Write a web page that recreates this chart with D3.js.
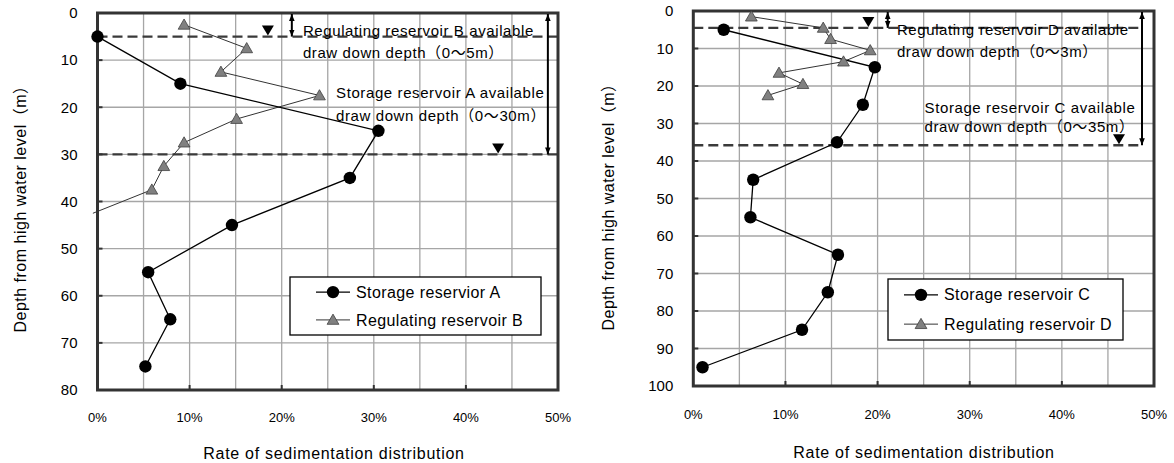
<!DOCTYPE html>
<html><head><meta charset="utf-8">
<script src="https://cdn.jsdelivr.net/npm/d3@7"></script>
<style>
body{margin:0;background:#fff;}
svg{display:block;font-family:"Liberation Sans",Arial,"Noto Sans CJK JP",sans-serif;}
</style></head>
<body>
<svg id="c" width="1174" height="463"></svg>
<script>
// ---- data ----
const depthA = [5, 15, 25, 35, 45, 55, 65, 75];
const rateA  = [0, 9.0, 30.5, 27.4, 14.6, 5.5, 7.9, 5.2];
const depthB = [2.5, 7.5, 12.5, 17.5, 22.5, 27.5, 32.5, 37.5, 42.5];
const rateB  = [9.4, 16.2, 13.4, 24.1, 15.1, 9.4, 7.2, 5.9, -0.5];

const depthC = [5, 15, 25, 35, 45, 55, 65, 75, 85, 95];
const rateC  = [3.3, 19.7, 18.4, 15.6, 6.5, 6.2, 15.7, 14.6, 11.8, 1.0];
const depthD = [1.5, 4.5, 7.5, 10.5, 13.5, 16.5, 19.5, 22.5];
const rateD  = [6.3, 14.1, 14.9, 19.2, 16.3, 9.3, 11.9, 8.1];

const xTicks = [0, 10, 20, 30, 40, 50];
const yTicksLeft = [0, 10, 20, 30, 40, 50, 60, 70, 80];
const yTicksRight = [0, 10, 20, 30, 40, 50, 60, 70, 80, 90, 100];

const xTitle = "Rate of sedimentation distribution";
const yTitle = "Depth from high water level（m）";

const charts = [
  {
    box: {x0: 97.5, x1: 558, y0: 13, y1: 390}, ymax: 80, yTicks: yTicksLeft,
    s1: {name: "Storage reservior A", rate: rateA, depth: depthA},
    s2: {name: "Regulating reservoir B", rate: rateB, depth: depthB},
    dashed: [{d: 5, to: 50}, {d: 30, to: 50}],
    downMarks: [{r: 18.5, d: 5}, {r: 43.5, d: 30}],
    arrows: [{r: 21.1, from: 0, to: 5}, {r: 48.9, from: 0, to: 30}],
    notes: [
      {r: 22.3, d: 3.8, t: "Regulating reservoir B available"},
      {r: 22.3, d: 8.5, t: "draw down depth（0～5m）"},
      {r: 25.9, d: 17.0, t: "Storage reservoir A available"},
      {r: 25.9, d: 21.7, t: "draw down depth（0～30m）"}
    ],
    legend: {x: 290, y: 277, w: 251, h: 58, pad: 26},
    xTitleX: 334, xTitleY: 453, yTitleX: 20, yTitleY: 205, tickLabY: 417
  },
  {
    box: {x0: 693.3, x1: 1154, y0: 11, y1: 386}, ymax: 100, yTicks: yTicksRight,
    s1: {name: "Storage reservoir C", rate: rateC, depth: depthC},
    s2: {name: "Regulating reservoir D", rate: rateD, depth: depthD},
    dashed: [{d: 4.5, to: 48.7}, {d: 35.8, to: 48.7}],
    downMarks: [{r: 19.0, d: 4.5}, {r: 46.2, d: 35.8}],
    arrows: [{r: 21.1, from: 0, to: 4.5}, {r: 48.7, from: 0, to: 35.8}],
    notes: [
      {r: 22.1, d: 5.1, t: "Regulating reservoir D available"},
      {r: 22.1, d: 10.8, t: "draw down depth（0～3m）"},
      {r: 25.1, d: 25.7, t: "Storage reservoir C available"},
      {r: 25.1, d: 30.9, t: "draw down depth（0～35m）"}
    ],
    legend: {x: 888, y: 279, w: 235, h: 61, pad: 16},
    xTitleX: 924, xTitleY: 452, yTitleX: 608, yTitleY: 203, tickLabY: 414
  }
];

const svg = d3.select("#c");
const defs = svg.append("defs");
["s", "e"].forEach(k => {
  defs.append("marker").attr("id", "ah" + k).attr("viewBox", "0 0 10 10")
    .attr("refX", 10).attr("refY", 5).attr("markerWidth", 7).attr("markerHeight", 7)
    .attr("markerUnits", "userSpaceOnUse").attr("orient", "auto-start-reverse")
    .append("path").attr("d", "M0,1 L10,5 L0,9 Z").attr("fill", "#000");
});

const tri = d3.symbol().type(d3.symbolTriangle).size(60);

charts.forEach((c, ci) => {
  const b = c.box;
  const x = d3.scaleLinear().domain([0, 50]).range([b.x0, b.x1]);
  const y = d3.scaleLinear().domain([0, c.ymax]).range([b.y0, b.y1]);
  const g = svg.append("g");

  // grid
  const vg = d3.range(5, 50, 5);
  g.selectAll(".vg").data(vg).join("line")
    .attr("x1", d => x(d)).attr("x2", d => x(d)).attr("y1", b.y0).attr("y2", b.y1)
    .attr("stroke", "#a6a6a6").attr("stroke-width", 1.3);
  g.selectAll(".hg").data(c.yTicks.slice(1, -1)).join("line")
    .attr("x1", b.x0).attr("x2", b.x1).attr("y1", d => y(d)).attr("y2", d => y(d))
    .attr("stroke", "#a6a6a6").attr("stroke-width", 1.3);

  // dashed lines
  g.selectAll(".dl").data(c.dashed).join("line")
    .attr("x1", b.x0).attr("x2", d => x(d.to)).attr("y1", d => y(d.d)).attr("y2", d => y(d.d))
    .attr("stroke", "#3a3a3a").attr("stroke-width", 2.3).attr("stroke-dasharray", "10,5");

  const line = d3.line().x(d => x(d[0])).y(d => y(d[1]));
  const p1 = c.s1.rate.map((r, i) => [r, c.s1.depth[i]]);
  const p2 = c.s2.rate.map((r, i) => [r, c.s2.depth[i]]);

  const sg = g.append("g");
  sg.append("path").datum(p2).attr("d", line).attr("fill", "none")
    .attr("stroke", "#333").attr("stroke-width", 1);
  sg.append("path").datum(p1).attr("d", line).attr("fill", "none")
    .attr("stroke", "#000").attr("stroke-width", 1.3);

  // frame
  g.append("rect").attr("x", b.x0).attr("y", b.y0).attr("width", b.x1 - b.x0).attr("height", b.y1 - b.y0)
    .attr("fill", "none").attr("stroke", "#333").attr("stroke-width", 3);

  // ticks inward
  g.selectAll(".yt").data(c.yTicks.slice(1, -1)).join("line")
    .attr("x1", b.x0).attr("x2", b.x0 + 5).attr("y1", d => y(d)).attr("y2", d => y(d))
    .attr("stroke", "#333").attr("stroke-width", 2);
  g.selectAll(".xt").data(xTicks.slice(1, -1)).join("line")
    .attr("x1", d => x(d)).attr("x2", d => x(d)).attr("y1", b.y1).attr("y2", b.y1 - 5)
    .attr("stroke", "#333").attr("stroke-width", 2);

  // markers
  g.selectAll(".m2").data(p2.filter(d => d[0] >= 0)).join("path")
    .attr("d", tri).attr("transform", d => `translate(${x(d[0])},${y(d[1]) + 1})`)
    .attr("fill", "#808080").attr("stroke", "#404040").attr("stroke-width", 0.8);
  g.selectAll(".m1").data(p1).join("circle")
    .attr("cx", d => x(d[0])).attr("cy", d => y(d[1])).attr("r", 6.2).attr("fill", "#000");

  // down triangle marks
  g.selectAll(".dm").data(c.downMarks).join("path")
    .attr("d", d => {
      const px = x(d.r), py = y(d.d) - 1;
      return `M${px - 6},${py - 10} L${px + 6},${py - 10} L${px},${py} Z`;
    }).attr("fill", "#000");

  // arrows
  g.selectAll(".ar").data(c.arrows).join("line")
    .attr("x1", d => x(d.r)).attr("x2", d => x(d.r))
    .attr("y1", d => y(d.from) + 1).attr("y2", d => y(d.to))
    .attr("stroke", "#000").attr("stroke-width", 2)
    .attr("marker-start", "url(#ahs)").attr("marker-end", "url(#ahe)");

  // notes
  g.selectAll(".nt").data(c.notes).join("text")
    .attr("x", d => x(d.r)).attr("y", d => y(d.d)).attr("dy", "0.35em")
    .attr("font-size", 15).attr("letter-spacing", 0.6).attr("fill", "#000").text(d => d.t);

  // tick labels
  g.selectAll(".yl").data(c.yTicks).join("text")
    .attr("x", b.x0 - 20).attr("y", d => y(d)).attr("dy", "0.35em").attr("text-anchor", "end")
    .attr("font-size", 15).text(d => d);
  g.selectAll(".xl").data(xTicks).join("text")
    .attr("x", d => x(d)).attr("y", c.tickLabY).attr("dy", "0.35em").attr("text-anchor", "middle")
    .attr("font-size", 13).text(d => d + "%");

  // titles
  g.append("text").attr("x", c.xTitleX).attr("y", c.xTitleY).attr("dy", "0.35em")
    .attr("text-anchor", "middle").attr("font-size", 16).attr("letter-spacing", 0.7).text(xTitle);
  g.append("text").attr("transform", `translate(${c.yTitleX},${c.yTitleY}) rotate(-90)`)
    .attr("dy", "0.35em").attr("text-anchor", "middle").attr("font-size", 16)
    .attr("letter-spacing", 0.5).text(yTitle);

  // legend
  const L = c.legend;
  const lg = g.append("g");
  lg.append("rect").attr("x", L.x).attr("y", L.y).attr("width", L.w).attr("height", L.h)
    .attr("fill", "#fff").attr("stroke", "#000").attr("stroke-width", 1.3);
  const rows = [c.s1, c.s2];
  rows.forEach((s, i) => {
    const ry = L.y + L.h * (i === 0 ? 0.26 : 0.74);
    const lx = L.x + L.pad;
    lg.append("line").attr("x1", lx).attr("x2", lx + 34).attr("y1", ry).attr("y2", ry)
      .attr("stroke", i === 0 ? "#000" : "#333").attr("stroke-width", i === 0 ? 1.3 : 1);
    if (i === 0) lg.append("circle").attr("cx", lx + 17).attr("cy", ry).attr("r", 6.2).attr("fill", "#000");
    else lg.append("path").attr("d", tri).attr("transform", `translate(${lx + 17},${ry + 1})`)
      .attr("fill", "#808080").attr("stroke", "#404040").attr("stroke-width", 0.8);
    lg.append("text").attr("x", lx + 40).attr("y", ry).attr("dy", "0.35em")
      .attr("font-size", 16).attr("letter-spacing", 0.4).text(s.name);
  });
});
</script>
</body></html>
